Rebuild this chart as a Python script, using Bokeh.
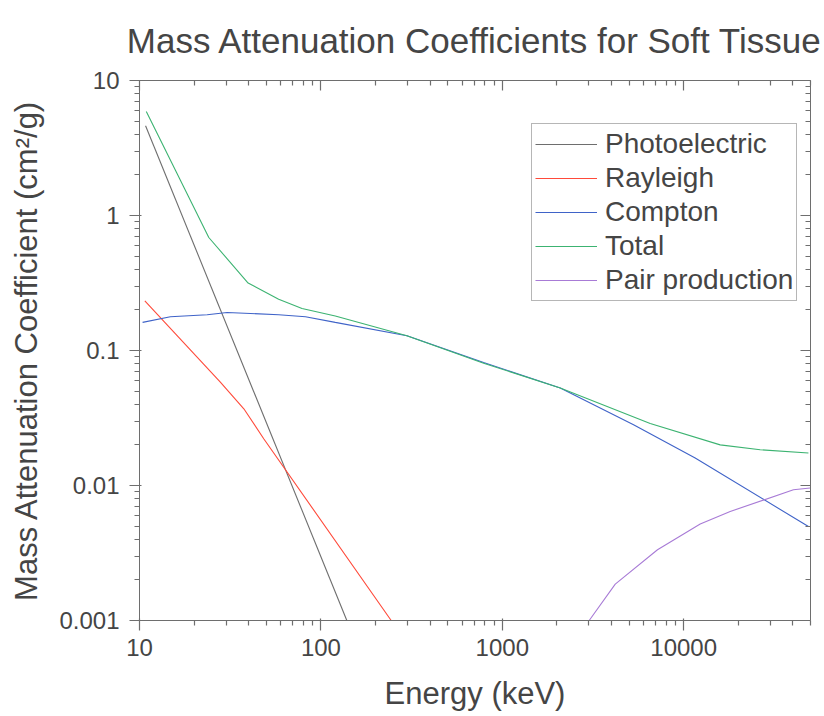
from bokeh.plotting import figure
from bokeh.models import (Range1d, LogAxis, FixedTicker, CustomJSTickFormatter,
                          NumeralTickFormatter, Legend, LegendItem)
from bokeh.embed import file_html
from bokeh.resources import INLINE

# ---- data ----
energy_photo = [10.8, 139]
mu_photo = [4.62, 0.001]

energy_rayleigh = [10.7, 27.9, 37.6, 48.4, 244]
mu_rayleigh = [0.2335, 0.0583, 0.037, 0.0222, 0.001]

energy_compton = [10.4, 14.8, 23.6, 30.4, 40.9, 58.5, 82.2, 120, 298, 789, 2087, 5290, 11570, 48700]
mu_compton = [0.1615, 0.1777, 0.184, 0.191, 0.188, 0.184, 0.178, 0.1615, 0.1285, 0.0815, 0.0527, 0.0282, 0.01596, 0.00497]

energy_total = [10.9, 24.1, 39.7, 58.5, 78.7, 120, 298, 789, 2087, 6537, 15890, 26400, 48700]
mu_total = [5.89, 0.687, 0.316, 0.240, 0.205, 0.18, 0.1285, 0.0805, 0.0527, 0.0288, 0.020, 0.0184, 0.0174]

energy_pair = [3013, 4194, 7170, 12330, 18040, 40270, 49800]
mu_pair = [0.001, 0.00186, 0.00334, 0.00518, 0.00642, 0.00929, 0.00957]

series_names = ["Photoelectric", "Rayleigh", "Compton", "Total", "Pair production"]

x_ticks = [10, 100, 1000, 10000]
x_minor = [20, 30, 40, 50, 60, 70, 80, 90,
           200, 300, 400, 500, 600, 700, 800, 900,
           2000, 3000, 4000, 5000, 6000, 7000, 8000, 9000,
           20000, 30000, 40000, 50000]
y_ticks = [0.001, 0.01, 0.1, 1, 10]
y_minor = [m * d for d in [0.001, 0.01, 0.1, 1] for m in range(2, 10)]

FONT = "Liberation Sans"
TXT = "#454545"
AX = "#6e6e6e"

p = figure(width=824, height=716, x_axis_type="log", y_axis_type="log",
           x_range=Range1d(10, 50000), y_range=Range1d(0.001, 10),
           output_backend="svg", toolbar_location=None,
           min_border_left=139, min_border_right=14, min_border_top=80, min_border_bottom=96,
           background_fill_color="white", border_fill_color="white")
p.grid.visible = False
p.outline_line_color = None

p.title.text = "Mass Attenuation Coefficients for Soft Tissue"
p.title.text_font = FONT
p.title.text_font_size = "35px"
p.title.text_font_style = "normal"
p.title.text_color = TXT
p.title.align = "center"
p.title.vertical_align = "top"
p.title.offset = -8
p.title.standoff = 37

blank = CustomJSTickFormatter(code="return '';")

def style(ax, ticks, minor, out):
    ax.ticker = FixedTicker(ticks=ticks, minor_ticks=minor)
    ax.axis_line_color = AX
    ax.axis_line_width = 1
    ax.major_tick_line_color = AX
    ax.minor_tick_line_color = AX
    ax.major_tick_line_width = 1.2
    ax.minor_tick_line_width = 1.2
    if out:
        ax.major_tick_out = 10
        ax.major_tick_in = 2
        ax.minor_tick_out = 5
        ax.minor_tick_in = 0
        ax.formatter = NumeralTickFormatter(format="0.[000]")
        ax.major_label_text_font_size = "24px"
        ax.major_label_text_color = TXT
        ax.axis_label_text_font = FONT
        ax.axis_label_text_font_size = "31px"
        ax.axis_label_text_font_style = "normal"
        ax.axis_label_text_color = TXT
    else:
        ax.major_tick_out = 0
        ax.major_tick_in = 10
        ax.minor_tick_out = 0
        ax.minor_tick_in = 5
        ax.formatter = blank
        ax.major_label_text_font_size = "0px"
        ax.major_label_standoff = 0

xb = p.xaxis[0]
yl = p.yaxis[0]
style(xb, x_ticks, x_minor, True)
style(yl, y_ticks, y_minor, True)
xb.axis_label = "Energy (keV)"
xb.major_label_standoff = 8
xb.axis_label_standoff = 17
yl.axis_label = "Mass Attenuation Coefficient (cm²/g)"
yl.major_label_standoff = 10
yl.axis_label_standoff = 12

xt = LogAxis()
style(xt, x_ticks, x_minor, False)
p.add_layout(xt, "above")
yr = LogAxis()
style(yr, y_ticks, y_minor, False)
p.add_layout(yr, "right")

colors = ["#6e6e6e", "#ff4a3a", "#3f63c8", "#3cb371", "#a87bd6"]
data = [(energy_photo, mu_photo), (energy_rayleigh, mu_rayleigh),
        (energy_compton, mu_compton), (energy_total, mu_total),
        (energy_pair, mu_pair)]
items = []
for name, (ex, mu), c in zip(series_names, data, colors):
    r = p.line(ex, mu, line_color=c, line_width=1.1)
    items.append(LegendItem(label=name, renderers=[r]))

legend = Legend(items=items, location=(392, 319))
legend.label_text_font = FONT
legend.label_text_font_size = "28px"
legend.label_text_color = TXT
legend.label_height = 34
legend.glyph_height = 34
legend.glyph_width = 62
legend.label_standoff = 8
legend.spacing = 0
legend.padding = 3
legend.margin = 0
legend.border_line_color = AX
legend.border_line_width = 1.5
legend.background_fill_color = "white"
legend.background_fill_alpha = 1
p.add_layout(legend, "center")

open("out.html", "w").write(file_html(p, INLINE))
